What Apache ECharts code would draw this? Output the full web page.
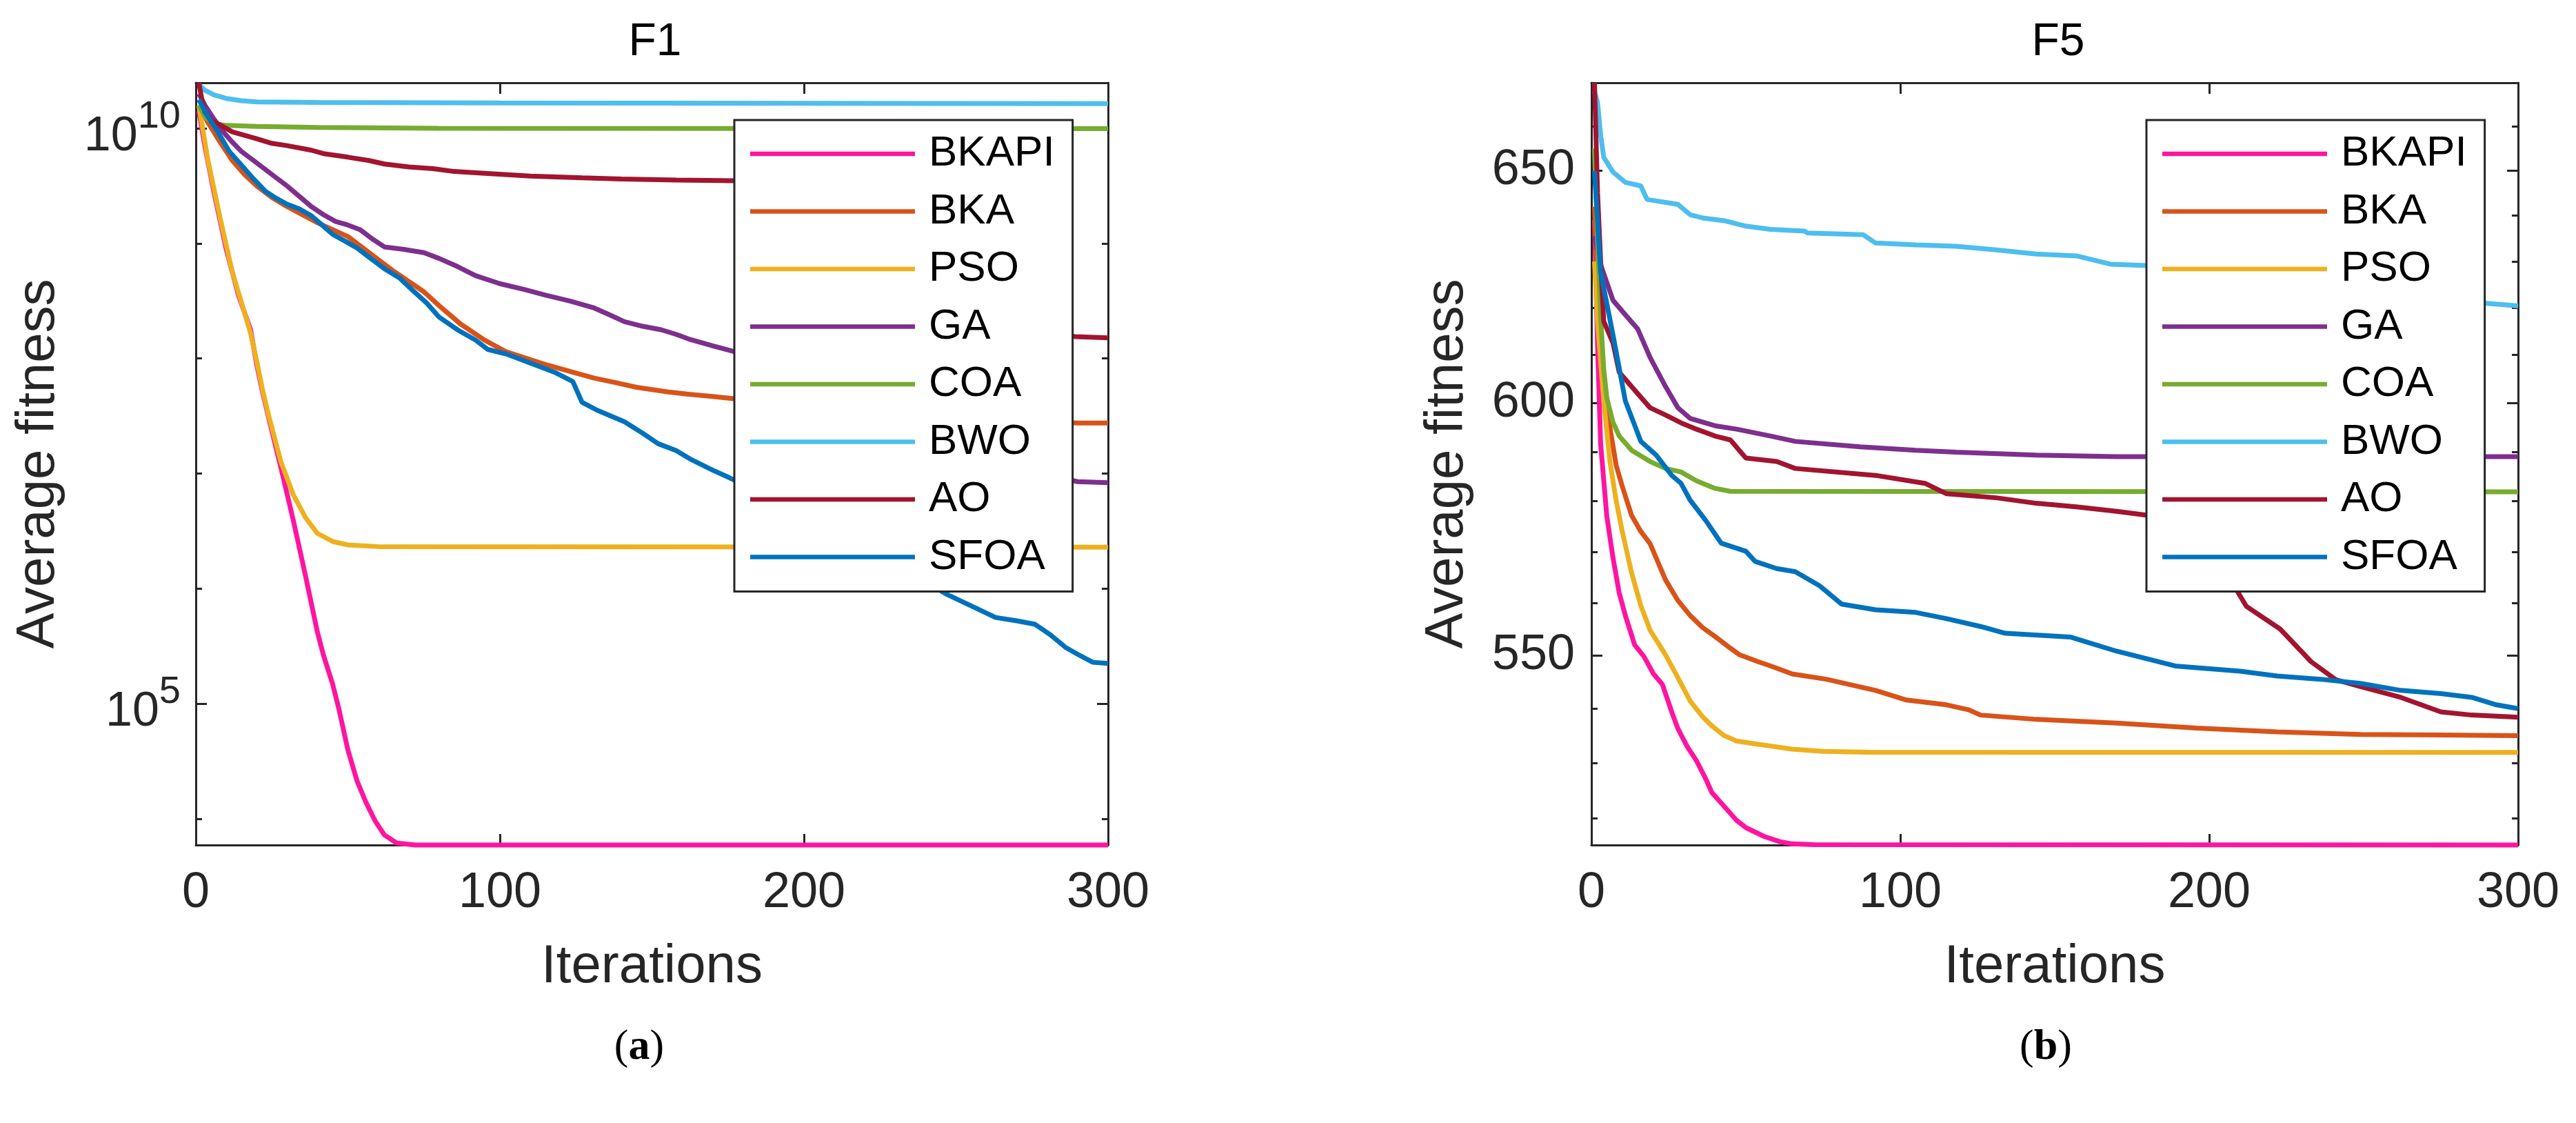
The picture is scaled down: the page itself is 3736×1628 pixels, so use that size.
<!DOCTYPE html>
<html>
<head>
<meta charset="utf-8">
<title>F1 / F5 convergence</title>
<script src="https://cdn.jsdelivr.net/npm/echarts@6.0.0/dist/echarts.min.js"></script>
<style>
  html, body { margin: 0; padding: 0; background: #fff; }
  #main { width: 3736px; height: 1628px; }
</style>
</head>
<body>
<div id="main"></div>
<script>
// ---- data: [iteration, average fitness] ----
var algoNames = ['BKAPI', 'BKA', 'PSO', 'GA', 'COA', 'BWO', 'AO', 'SFOA'];
var algoColors = ['#ff14a0', '#d95319', '#edb120', '#7e2f8e', '#77ac30', '#4dbeee', '#a2142f', '#0072bd'];

var iterTicks = [0, 100, 200, 300];

// F1 (log scale)
var f1BKAPI = [[1,1.413e10],[3,6.92e9],[6,2.75e9],[10,8.91e8],[14,3.55e8],[18,1.78e8],[20,8.91e7],[22,5.01e7],[24,3.02e7],[28,1.12e7],[32,3.98e6],[36,1.32e6],[40,4.17e5],[42,2.63e5],[45,1.48e5],[47,9.12e4],[50,3.98e4],[53,2.14e4],[56,1.38e4],[59,9550],[62,7240],[66,6170],[72,5916],[300,5916]];
var f1BKA = [[1,1.585e10],[4,1.122e10],[8,7.59e9],[12,5.25e9],[16,3.98e9],[20,3.16e9],[25,2.51e9],[30,2.09e9],[35,1.778e9],[40,1.514e9],[45,1.318e9],[50,1.148e9],[55,9.12e8],[60,7.24e8],[65,5.75e8],[70,4.68e8],[75,3.80e8],[80,2.88e8],[87,2.0e8],[95,1.445e8],[102,1.148e8],[110,9.77e7],[116,8.71e7],[124,7.59e7],[131,6.76e7],[138,6.17e7],[145,5.62e7],[155,5.13e7],[162,4.90e7],[170,4.68e7],[177,4.47e7],[200,3.98e7],[230,3.47e7],[260,3.02e7],[290,2.75e7],[300,2.75e7]];
var f1PSO = [[1,1.585e10],[4,5.25e9],[8,1.66e9],[12,5.62e8],[16,2.51e8],[18,1.66e8],[20,9.55e7],[22,5.25e7],[24,3.16e7],[28,1.26e7],[32,6.61e6],[36,4.17e6],[40,3.02e6],[45,2.57e6],[50,2.40e6],[60,2.32e6],[300,2.29e6]];
var f1GA = [[1,2.0e10],[3,1.585e10],[6,1.20e10],[9,9.33e9],[12,7.59e9],[15,6.31e9],[19,5.25e9],[22,4.57e9],[26,3.80e9],[30,3.16e9],[34,2.57e9],[38,2.09e9],[42,1.778e9],[46,1.55e9],[50,1.445e9],[54,1.318e9],[58,1.096e9],[62,9.33e8],[68,8.91e8],[75,8.32e8],[80,7.41e8],[86,6.31e8],[92,5.25e8],[100,4.47e8],[108,3.98e8],[115,3.55e8],[123,3.16e8],[131,2.75e8],[136,2.40e8],[141,2.09e8],[147,1.905e8],[153,1.778e8],[158,1.62e8],[162,1.48e8],[170,1.29e8],[177,1.148e8],[200,6.31e7],[230,2.51e7],[260,1.26e7],[290,8.51e6],[300,8.32e6]];
var f1COA = [[1,1.6e10],[3,1.26e10],[6,1.1e10],[10,1.06e10],[20,1.04e10],[40,1.02e10],[80,1.0e10],[300,0.995e10]];
var f1BWO = [[1,2.40e10],[3,2.14e10],[6,1.95e10],[10,1.82e10],[15,1.74e10],[20,1.70e10],[40,1.68e10],[100,1.66e10],[300,1.64e10]];
var f1AO = [[1,2.49e10],[2,1.78e10],[3,1.38e10],[5,1.175e10],[8,1.07e10],[12,9.33e9],[16,8.71e9],[20,8.13e9],[25,7.41e9],[30,7.08e9],[38,6.46e9],[42,6.03e9],[50,5.62e9],[57,5.25e9],[62,4.90e9],[70,4.62e9],[78,4.47e9],[85,4.22e9],[95,4.07e9],[110,3.85e9],[127,3.72e9],[140,3.63e9],[158,3.55e9],[177,3.51e9],[195,3.16e9],[215,1.78e9],[235,7.08e8],[255,3.16e8],[275,1.905e8],[289,1.55e8],[300,1.51e8]];
var f1SFOA = [[1,1.778e10],[4,1.259e10],[7,9.55e9],[11,6.31e9],[15,4.79e9],[19,3.63e9],[23,2.82e9],[26,2.51e9],[30,2.19e9],[34,2.0e9],[38,1.74e9],[42,1.41e9],[45,1.20e9],[49,1.05e9],[53,9.12e8],[57,7.59e8],[62,6.03e8],[67,5.01e8],[71,3.98e8],[76,3.02e8],[80,2.29e8],[86,1.78e8],[92,1.445e8],[96,1.20e8],[102,1.096e8],[108,9.55e7],[114,8.32e7],[118,7.59e7],[124,6.31e7],[127,4.17e7],[132,3.55e7],[141,2.82e7],[147,2.24e7],[152,1.82e7],[158,1.585e7],[163,1.32e7],[170,1.07e7],[175,9.33e6],[190,6.03e6],[210,3.31e6],[230,1.66e6],[247,8.91e5],[255,7.08e5],[263,5.62e5],[270,5.25e5],[276,4.90e5],[281,3.98e5],[286,3.09e5],[290,2.69e5],[295,2.29e5],[300,2.24e5]];

// F5 (log scale, narrow range)
var f5BKAPI = [[1,639],[2,612],[3,591.5],[5,577],[7,568.8],[9,562],[11,557.6],[14,552],[17,549.8],[20,546.6],[23,544.5],[26,539.4],[28,536.3],[31,533],[34,530.4],[37,527.1],[39,524.6],[43,522.1],[47,519.6],[50,518.3],[56,516.7],[61,515.8],[65,515.4],[72,515.25],[300,515.2]];
var f5BKA = [[1,642],[2,625],[4,606],[6,595],[8,587.3],[10,583],[13,577.2],[16,574],[19,571.6],[24,564.5],[28,560.5],[32,557.6],[36,555.3],[40,553.6],[44,551.8],[48,550.1],[54,548.8],[59,547.8],[65,546.5],[76,545.5],[92,543.4],[102,541.6],[115,540.7],[122,539.8],[126,538.8],[144,538],[170,537.3],[196,536.4],[222,535.7],[249,535.2],[275,535.1],[300,535]];
var f5PSO = [[1,630],[2,617],[4,600.4],[6,588],[8,580.2],[10,574],[13,565.9],[16,559.5],[19,554.8],[22,552],[24,550.1],[28,545.8],[32,541.4],[36,538.5],[39,536.8],[43,535],[47,534],[54,533.4],[59,533],[65,532.5],[75,532.1],[90,531.95],[300,531.9]];
var f5GA = [[1,635.5],[3,629.3],[7,621.6],[11,618.5],[15,615.5],[19,609.5],[24,603.4],[28,599],[32,596.8],[40,595.3],[47,594.6],[58,593.2],[66,592.1],[87,591],[105,590.3],[118,589.9],[144,589.3],[170,589],[300,589]];
var f5COA = [[1,655],[2,635],[3,618],[4,607],[5,601],[7,596],[9,593.2],[13,590.3],[19,588],[24,586.6],[29,585.9],[34,584.1],[40,582.6],[45,582],[300,581.9]];
var f5BWO = [[1,668],[2,665.5],[3,658],[4,653],[7,649.7],[11,647.4],[16,646.6],[18,643.6],[28,642.5],[32,640.2],[36,639.5],[43,638.9],[50,637.7],[58,637],[69,636.6],[70,636.2],[88,635.8],[92,634],[105,633.6],[118,633.3],[131,632.5],[144,631.6],[157,631.2],[168,629.4],[180,629.1],[200,628],[230,626],[260,623.5],[285,621.2],[300,620.4]];
var f5AO = [[1,670],[2,645],[3,630],[4,617.1],[7,612.5],[9,606.4],[13,603.4],[19,599],[24,597.5],[29,595.9],[34,594.6],[40,593.2],[45,592.4],[50,588.7],[60,588],[66,586.6],[92,585.2],[108,583.6],[115,581.5],[131,580.7],[144,579.6],[157,578.9],[170,578],[180,577.2],[190,576.5],[198,573],[204,567],[209,562.4],[212,559.4],[223,555],[233,548.8],[241,545.4],[249,544.1],[262,542.1],[275,539.4],[285,538.8],[300,538.4]];
var f5SFOA = [[1,649.9],[3,627.6],[7,614.2],[11,600.4],[16,592.1],[21,589.3],[26,585.2],[29,583.6],[32,580.2],[37,576.2],[42,571.7],[50,570.1],[53,568.1],[60,566.7],[66,566.1],[74,563.3],[81,559.8],[92,558.7],[105,558.2],[115,557],[126,555.5],[134,554.2],[155,553.5],[170,550.8],[189,548],[210,547],[222,546.1],[236,545.5],[249,544.7],[262,543.4],[275,542.8],[285,542.1],[293,540.7],[300,540]];

var f1Lines = [f1BKAPI, f1BKA, f1PSO, f1GA, f1COA, f1BWO, f1AO, f1SFOA];
var f5Lines = [f5BKAPI, f5BKA, f5PSO, f5GA, f5COA, f5BWO, f5AO, f5SFOA];

// axis extents and tick positions
var f1Range = [5916, 2.49e10];
var f1MajorTicks = [1e5, 1e10];
var f1MinorTicks = [1e4, 1e6, 1e7, 1e8, 1e9];
var f5Range = [515.2, 670];
var f5MajorTicks = [550, 600, 650];
var f5MinorTicks = [520, 530, 540, 560, 570, 580, 590, 610, 620, 630, 640, 660, 670];

// ---- style ----
var FONT = '"Liberation Sans", Arial, Helvetica, sans-serif';
var SERIF = '"Liberation Serif", "Times New Roman", serif';
var INK = '#262626';

function xAxes(gridIndex) {
  var base = {
    type: 'value', gridIndex: gridIndex, min: 0, max: 300, interval: 100,
    axisLine: { show: true, onZero: false, lineStyle: { color: INK, width: 3 } },
    axisTick: { show: true, inside: true, length: 16, lineStyle: { color: INK, width: 3 } },
    splitLine: { show: false }
  };
  return [
    Object.assign({}, base, {
      position: 'bottom',
      name: 'Iterations', nameLocation: 'middle', nameGap: 138,
      nameTextStyle: { fontFamily: FONT, fontSize: 78, color: INK },
      axisLabel: {
        show: true, margin: 34, fontFamily: FONT, fontSize: 72, color: INK,
        showMinLabel: true, showMaxLabel: true,
        customValues: iterTicks
      }
    }),
    Object.assign({}, base, { position: 'top', axisLabel: { show: false } })
  ];
}

function yAxes(gridIndex, range, majorTicks, minorTicks, labelOpt, nameGap) {
  function axis(pos, ticks, len, withLine, label, named) {
    var a = {
      type: 'log', logBase: 10, gridIndex: gridIndex, position: pos,
      min: range[0], max: range[1],
      axisLine: { show: withLine, onZero: false, lineStyle: { color: INK, width: 3 } },
      axisTick: { show: true, inside: true, length: len, customValues: ticks,
                  lineStyle: { color: INK, width: 3 } },
      axisLabel: label || { show: false },
      splitLine: { show: false }
    };
    if (named) {
      a.name = 'Average fitness';
      a.nameLocation = 'middle';
      a.nameGap = nameGap;
      a.nameRotate = 90;
      a.nameTextStyle = { fontFamily: FONT, fontSize: 78, color: INK };
    }
    return a;
  }
  return [
    axis('left', majorTicks, 16, true, labelOpt, true),
    axis('left', minorTicks, 9, false, null, false),
    axis('right', majorTicks, 16, true, null, false),
    axis('right', minorTicks, 9, false, null, false)
  ];
}

var f1Label = {
  show: true, margin: 22, color: INK, customValues: f1MajorTicks,
  formatter: function (v) {
    var e = Math.round(Math.log10(v));
    if (Math.abs(Math.log10(v) - e) > 1e-6 || (e !== 5 && e !== 10)) return '';
    return '{b|10}{s|' + e + '}';
  },
  rich: {
    b: { fontFamily: FONT, fontSize: 70, color: INK, lineHeight: 50, padding: [26, 0, 0, 0] },
    s: { fontFamily: FONT, fontSize: 56, color: INK, lineHeight: 42, padding: [0, 0, 34, 0] }
  }
};
var f5Label = {
  show: true, margin: 24, fontFamily: FONT, fontSize: 72, color: INK,
  customValues: f5MajorTicks,
  formatter: function (v) { return String(Math.round(v)); }
};

function buildSeries(lines, gridIdx) {
  return lines.map(function (pts, i) {
    return {
      name: algoNames[i], type: 'line',
      xAxisIndex: gridIdx * 2, yAxisIndex: gridIdx * 4,
      data: pts, symbol: 'none', showSymbol: false, clip: false,
      lineStyle: { color: algoColors[i], width: 7 },
      itemStyle: { color: algoColors[i] },
      emphasis: { disabled: true }, silent: true
    };
  });
}

function legendAt(left) {
  return {
    data: algoNames, orient: 'vertical', left: left, top: 174,
    icon: 'rect',
    padding: [18, 26, 19, 23], itemGap: 21.5, itemWidth: 239, itemHeight: 6.5,
    backgroundColor: '#ffffff', borderColor: INK, borderWidth: 3, borderRadius: 0,
    selectedMode: false,
    textStyle: { fontFamily: FONT, fontSize: 62, color: '#000', lineHeight: 62, padding: [0, 0, 0, 15] }
  };
}

function subCaption(letter, cx) {
  return {
    text: '{p|(}{b|' + letter + '}{p|)}', left: cx, top: 1483, textAlign: 'center',
    textStyle: {
      fontWeight: 'normal', fontFamily: SERIF, fontSize: 62, color: '#000',
      rich: {
        p: { fontFamily: SERIF, fontSize: 62, fontWeight: 'normal', color: '#000' },
        b: { fontFamily: SERIF, fontSize: 62, fontWeight: 'bold', color: '#000' }
      }
    }
  };
}

var option = {
  animation: false,
  backgroundColor: '#ffffff',
  title: [
    { text: 'F1', left: 945, top: 24, textAlign: 'center',
      textStyle: { fontFamily: FONT, fontSize: 66, fontWeight: 'normal', color: '#000' } },
    { text: 'F5', left: 2980, top: 24, textAlign: 'center',
      textStyle: { fontFamily: FONT, fontSize: 66, fontWeight: 'normal', color: '#000' } },
    subCaption('a', 922),
    subCaption('b', 2962)
  ],
  grid: [
    { left: 284, top: 120, width: 1323, height: 1105, containLabel: false, outerBoundsMode: 'none' },
    { left: 2308, top: 120, width: 1344, height: 1105, containLabel: false, outerBoundsMode: 'none' }
  ],
  legend: [legendAt(1065), legendAt(3113)],
  xAxis: xAxes(0).concat(xAxes(1)),
  yAxis: yAxes(0, f1Range, f1MajorTicks, f1MinorTicks, f1Label, 189)
    .concat(yAxes(1, f5Range, f5MajorTicks, f5MinorTicks, f5Label, 170)),
  series: buildSeries(f1Lines, 0).concat(buildSeries(f5Lines, 1))
};

var chart = echarts.init(document.getElementById('main'));
chart.setOption(option);
</script>
</body>
</html>
